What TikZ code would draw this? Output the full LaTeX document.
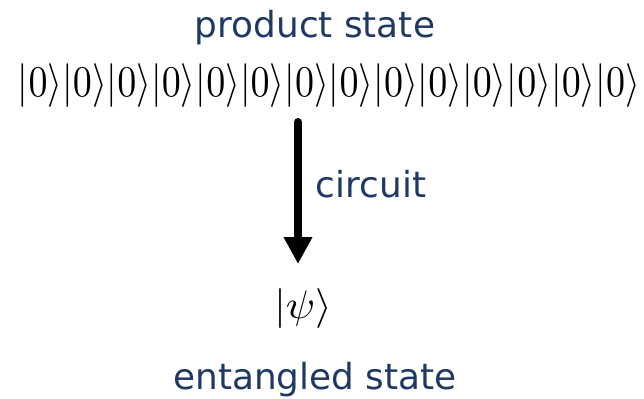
\documentclass[tikz,border=0pt]{standalone}
\usepackage{fontspec}
\setsansfont{DejaVu Sans}
\usetikzlibrary{arrows.meta}
\definecolor{labelblue}{RGB}{31,56,100}
\tikzset{
  caption/.style={font=\sffamily\fontsize{36}{40}\selectfont, text=labelblue, anchor=base, inner sep=0pt},
  ketrow/.style={anchor=base, inner sep=0pt},
  flow/.style={line width=8bp, line cap=round, -{Triangle[width=27bp,length=27bp]}}
}
\newcommand{\kz}{|0\rangle}
\begin{document}
\begin{tikzpicture}[x=1bp,y=-1bp]
  \useasboundingbox (0,0) rectangle (644,398);
  % labels
  \node[caption] (prod) at (315,37) {product state};
  \node[ketrow] (row) at (329,96)
    {\scalebox{3.823}[4.4]{$\kz\kz\kz\kz\kz\kz\kz\kz\kz\kz\kz\kz\kz\kz$}};
  \node[inner sep=0pt] (psi) at (303,309) {\scalebox{4.3}[4.0]{$|\psi\rangle$}};
  \node[caption] (ent) at (315,389) {entangled state};
  % the circuit arrow
  \coordinate (start) at (298,122);
  \coordinate (end) at (298,264);
  \draw[flow] (start) -- (end);
  \node[caption] (circ) at (371,197) {circuit};
\end{tikzpicture}
\end{document}
